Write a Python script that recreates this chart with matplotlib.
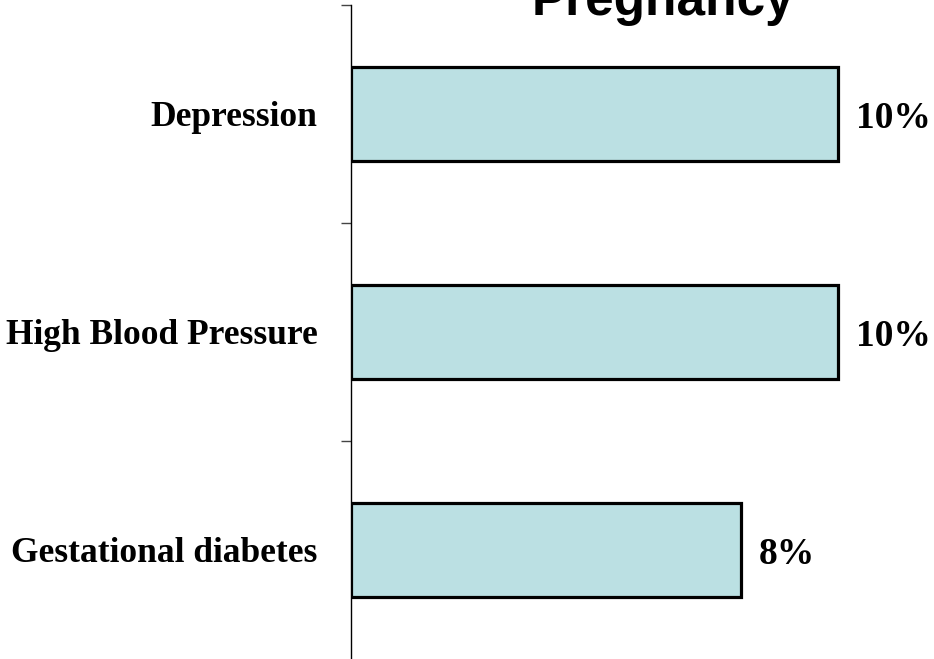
import matplotlib
matplotlib.use("Agg")
import matplotlib.pyplot as plt
import numpy as np

categories = ["Depression", "High Blood Pressure", "Gestational diabetes"]
values = [10, 10, 8]
value_labels = ["10%", "10%", "8%"]
title = "Pregnancy"

W, H, DPI = 934, 659, 100
fig = plt.figure(figsize=(W / DPI, H / DPI), dpi=DPI)
ax = fig.add_axes([351 / W, 0.0, 1 - 351 / W, 654 / H])

y = np.arange(len(categories))
ax.barh(y, values, height=0.43, color="#BBE0E3", edgecolor="black", linewidth=2.3, zorder=3)

ax.set_xlim(0, 11.97)
ax.set_ylim(len(categories) - 0.5, -0.5)

for s in ["top", "right", "bottom"]:
    ax.spines[s].set_visible(False)
ax.spines["left"].set_linewidth(1.0)
ax.spines["left"].set_color("black")
ax.set_xticks([])

ax.set_yticks(y)
ax.set_yticklabels(categories, fontfamily="Liberation Serif", fontweight="bold", fontsize=25.5)
ax.tick_params(axis="y", which="major", length=0, pad=24)
ax.set_yticks(np.arange(-0.5, len(categories) - 0.5), minor=True)
ax.tick_params(axis="y", which="minor", length=7.5, width=1.0, color="#444444", direction="out")

for yi, v, lab in zip(y, values, value_labels):
    ax.annotate(lab, (v, yi), xytext=(13, 0), textcoords="offset points",
                ha="left", va="center_baseline", fontfamily="Liberation Serif",
                fontweight="bold", fontsize=27)

fig.text(663 / W, (H - 14.5) / H, title, ha="center", va="baseline",
         fontfamily="Liberation Sans", fontweight="bold", fontsize=37)

fig.savefig("out.png", dpi=DPI)
